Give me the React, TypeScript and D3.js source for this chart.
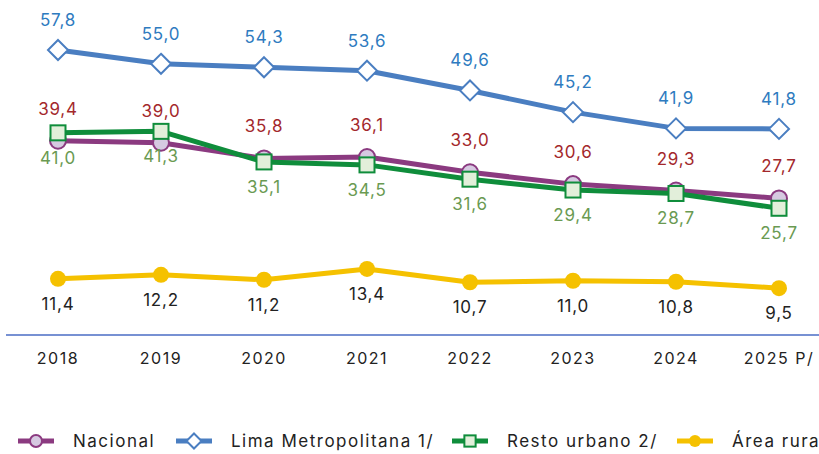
import React from "react";
import * as d3 from "d3";

const years = ["2018", "2019", "2020", "2021", "2022", "2023", "2024", "2025 P/"];
const nacional = [39.4, 39.0, 35.8, 36.1, 33.0, 30.6, 29.3, 27.7];
const lima = [57.8, 55.0, 54.3, 53.6, 49.6, 45.2, 41.9, 41.8];
const restoUrbano = [41.0, 41.3, 35.1, 34.5, 31.6, 29.4, 28.7, 25.7];
const rural = [11.4, 12.2, 11.2, 13.4, 10.7, 11.0, 10.8, 9.5];
const seriesNames = ["Nacional", "Lima Metropolitana 1/", "Resto urbano 2/", "Área rural"];

const W = 819;
const H = 454;
const FONT = "Inter, 'Noto Sans', sans-serif";

const fmt = (v: number) => v.toFixed(1).replace(".", ",");

export default function App() {
  const x = d3.scalePoint<string>().domain(years).range([58, 779]);
  const y = d3.scaleLinear().domain([0, 57.8]).range([335, 50]);
  const line = d3
    .line<number>()
    .x((_, i) => x(years[i])!)
    .y((d) => y(d));

  const series = [
    { name: seriesNames[0], data: nacional, color: "#8b3a80", labelColor: "#a3282c", labelDy: -26, marker: "circle" },
    { name: seriesNames[2], data: restoUrbano, color: "#0f8d3b", labelColor: "#6a9a52", labelDy: 31, marker: "square" },
    { name: seriesNames[1], data: lima, color: "#4a7ec1", labelColor: "#2e7bc0", labelDy: -24, marker: "diamond" },
    { name: seriesNames[3], data: rural, color: "#f5c100", labelColor: "#222222", labelDy: 31, marker: "dot" },
  ];

  const marker = (type: string, cx: number, cy: number, color: string, s = 1, key?: any) => {
    if (type === "circle")
      return <circle key={key} cx={cx} cy={cy} r={8 * s} fill="#d6c9e1" stroke={color} strokeWidth={2} />;
    if (type === "square")
      return (
        <rect key={key} x={cx - 7.5 * s} y={cy - 7.5 * s} width={15 * s} height={15 * s} fill="#e2efda" stroke={color} strokeWidth={2} />
      );
    if (type === "diamond") {
      const r = 10 * s;
      return (
        <path key={key} d={`M${cx},${cy - r}L${cx + r},${cy}L${cx},${cy + r}L${cx - r},${cy}Z`} fill="#ffffff" stroke={color} strokeWidth={2} />
      );
    }
    return <circle key={key} cx={cx} cy={cy} r={8 * s} fill={color} />;
  };

  const legendX = [18, 176, 452, 677];
  const legendOrder = [series[0], series[2], series[1], series[3]];

  return (
    <svg width={W} height={H} style={{ display: "block", position: "absolute", left: 0, top: 0 }} fontFamily={FONT}>
      <rect width={W} height={H} fill="#ffffff" />
      <line x1={6} x2={819} y1={y(0)} y2={y(0)} stroke="#4a6cc4" strokeWidth={1.5} />
      {years.map((yr) => (
        <text key={yr} x={x(yr)} y={364} textAnchor="middle" fontSize={16} letterSpacing={1.5} fill="#222">
          {yr}
        </text>
      ))}
      {series.map((s) => (
        <g key={s.name}>
          <path d={line(s.data)!} fill="none" stroke={s.color} strokeWidth={5} strokeLinejoin="round" />
          {s.data.map((v, i) => marker(s.marker, x(years[i])!, y(v), s.color, 1, i))}
        </g>
      ))}
      {series.map((s) =>
        s.data.map((v, i) => (
          <text
            key={s.name + i}
            x={x(years[i])!}
            y={y(v) + s.labelDy}
            textAnchor="middle"
            fontSize={17}
            letterSpacing={0.8}
            fill={s.labelColor}
          >
            {fmt(v)}
          </text>
        ))
      )}
      {legendOrder.map((s, i) => (
        <g key={s.name}>
          <line x1={legendX[i]} x2={legendX[i] + 36} y1={441} y2={441} stroke={s.color} strokeWidth={5} />
          {marker(s.marker, legendX[i] + 18, 441, s.color, 0.75)}
          <text x={legendX[i] + 55} y={447} fontSize={17} letterSpacing={1.5} fill="#222">
            {s.name}
          </text>
        </g>
      ))}
    </svg>
  );
}
